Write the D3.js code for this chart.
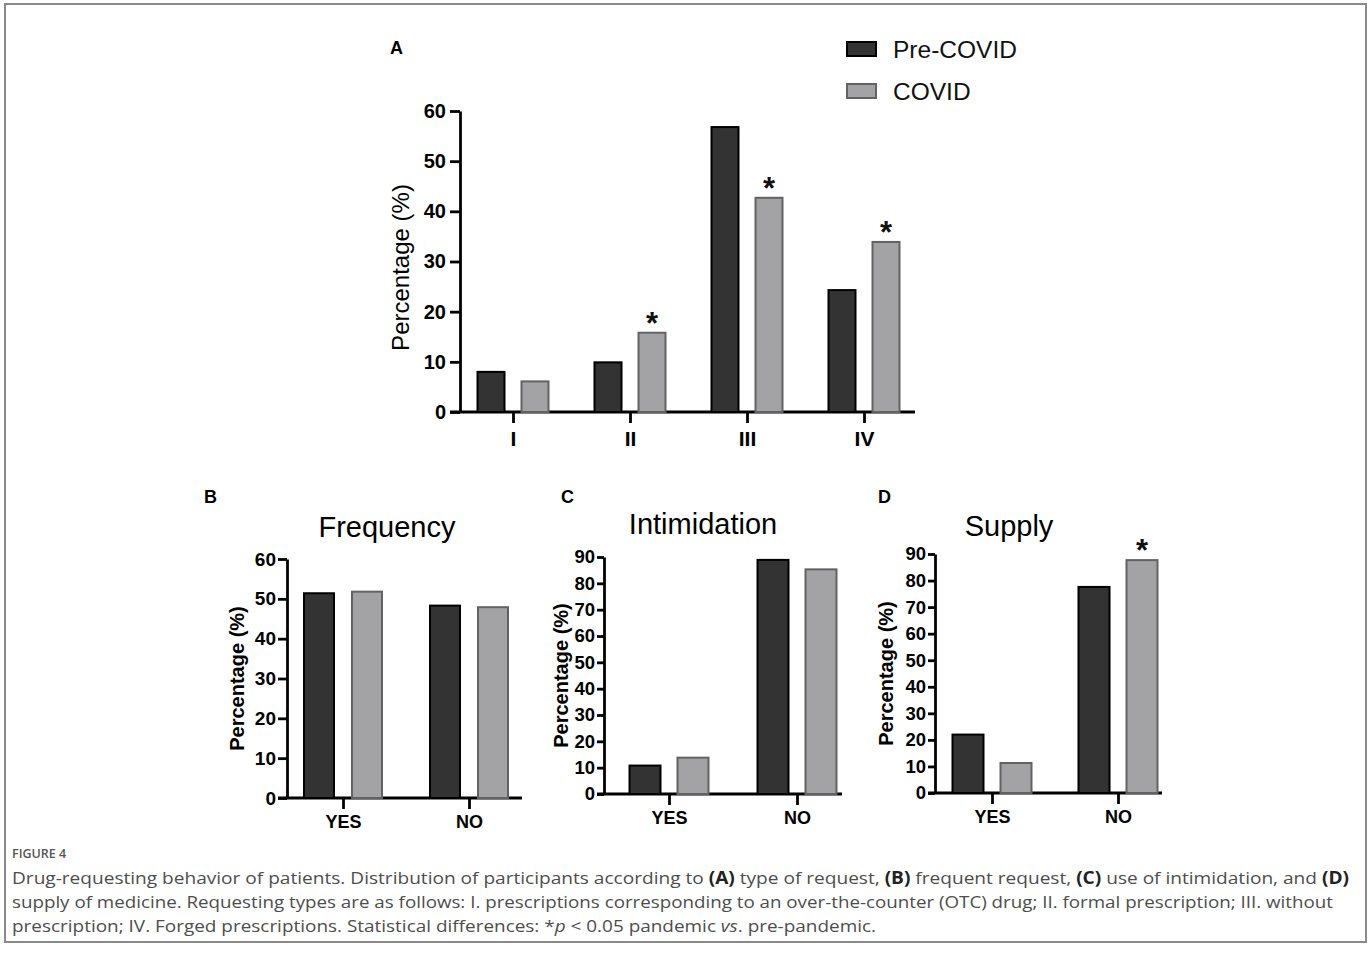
<!DOCTYPE html>
<html>
<head>
<meta charset="utf-8">
<script src="https://cdn.jsdelivr.net/npm/d3@7"></script>
<style>
  body { margin: 0; background: #fff; }
  svg { display: block; }
</style>
</head>
<body>
<svg></svg>
<script>
// data
let seriesNames = ['Pre-COVID', 'COVID']

let catsA = ['I', 'II', 'III', 'IV']
let preA = [8.0, 9.9, 56.8, 24.3]
let covidA = [6.1, 15.8, 42.7, 33.9]
let starA = [false, true, true, true]
let ticksA = [0, 10, 20, 30, 40, 50, 60]

let catsYN = ['YES', 'NO']
let preFreq = [51.4, 48.3]
let covidFreq = [51.8, 47.9]
let preIntim = [10.8, 88.9]
let covidIntim = [13.8, 85.3]
let preSupply = [22.0, 77.6]
let covidSupply = [11.3, 87.7]
let starSupply = [false, true]
let ticks60 = [0, 10, 20, 30, 40, 50, 60]
let ticks90 = [0, 10, 20, 30, 40, 50, 60, 70, 80, 90]

let width = 1371
let height = 961
let font = 'Liberation Sans, Arial, Helvetica, sans-serif'
let preFill = '#333333', preStroke = '#000000'
let covFill = '#a3a3a5', covStroke = '#626262'

let svg = d3.select('svg').attr('width', width).attr('height', height)

// outer frame
svg.append('rect')
   .attr('x', 5).attr('y', 4).attr('width', 1361).attr('height', 938)
   .attr('fill', 'none').attr('stroke', '#8a8a8a').attr('stroke-width', 2)

let drawPanel = (p) => {
    let g = svg.append('g')
    let y = d3.scaleLinear().domain([0, p.yMax]).range([p.bottom, p.top])
    let x = d3.scalePoint().domain(p.cats).range(p.centers)

    // y axis
    let ya = g.append('g')
              .attr('transform', `translate(${p.left},0)`)
              .call(d3.axisLeft(y).tickValues(p.ticks).tickSize(p.tickLen).tickSizeOuter(0).tickPadding(p.tickPad))
    ya.select('.domain').attr('stroke', '#000').attr('stroke-width', 2.8)
    ya.selectAll('.tick line').attr('stroke', '#000').attr('stroke-width', 2.8)
    ya.selectAll('.tick text')
      .attr('fill', '#000').attr('font-family', font).attr('font-weight', 'bold')
      .attr('font-size', p.tickFont)

    // x axis
    let xa = g.append('g')
              .attr('transform', `translate(0,${p.bottom})`)
              .call(d3.axisBottom(x).tickSize(11).tickPadding(p.xPad))
    xa.select('.domain').remove()
    xa.selectAll('.tick line').attr('stroke', '#000').attr('stroke-width', 2.8)
    xa.selectAll('.tick text')
      .attr('fill', '#000').attr('font-family', font).attr('font-weight', 'bold')
      .attr('font-size', p.xFont)
    g.append('line')
     .attr('x1', p.left - p.tickLen).attr('x2', p.right)
     .attr('y1', p.bottom).attr('y2', p.bottom)
     .attr('stroke', '#000').attr('stroke-width', 2.8)

    // bars
    let rows = p.cats.map((c, i) => ({c: c, pre: p.pre[i], cov: p.cov[i], star: p.star ? p.star[i] : false}))
    g.selectAll('.pre').data(rows).enter().append('rect')
     .attr('x', d => x(d.c) - p.off - p.barW / 2)
     .attr('y', d => y(d.pre))
     .attr('width', p.barW)
     .attr('height', d => p.bottom - y(d.pre))
     .attr('fill', preFill).attr('stroke', preStroke).attr('stroke-width', 2)
    g.selectAll('.cov').data(rows).enter().append('rect')
     .attr('x', d => x(d.c) + p.off - p.barW / 2)
     .attr('y', d => y(d.cov))
     .attr('width', p.barW)
     .attr('height', d => p.bottom - y(d.cov))
     .attr('fill', covFill).attr('stroke', covStroke).attr('stroke-width', 2)
    g.selectAll('.star').data(rows.filter(d => d.star)).enter().append('text')
     .attr('x', d => x(d.c) + p.off)
     .attr('y', d => y(d.cov) + 1)
     .attr('text-anchor', 'middle')
     .attr('font-family', font).attr('font-size', 31).attr('font-weight', 'bold').attr('fill', '#111')
     .text('*')

    // y label
    g.append('text')
     .attr('transform', `translate(${p.yLabX},${(p.top + p.bottom) / 2 + p.yLabDy}) rotate(-90)`)
     .attr('text-anchor', 'middle').attr('dominant-baseline', 'central')
     .attr('font-family', font).attr('font-size', p.yLabFont).attr('font-weight', p.yLabWeight)
     .text('Percentage (%)')

    // title and panel letter
    if (p.title) {
        g.append('text')
         .attr('x', (p.centers[0] + p.centers[1]) / 2 + p.titleDx).attr('y', p.titleY)
         .attr('text-anchor', 'middle').attr('dominant-baseline', 'central')
         .attr('font-family', font).attr('font-size', 29)
         .text(p.title)
    }
    g.append('text')
     .attr('x', p.letterX).attr('y', p.letterY)
     .attr('dominant-baseline', 'central')
     .attr('font-family', font).attr('font-size', 18).attr('font-weight', 'bold')
     .text(p.letter)
}

drawPanel({cats: catsA, pre: preA, cov: covidA, star: starA, ticks: ticksA, yMax: 60,
           left: 460, right: 915, top: 111, bottom: 412, centers: [513, 864],
           barW: 27, off: 22, tickLen: 10, tickPad: 4, tickFont: 20, xFont: 21, xPad: 8,
           yLabX: 400, yLabDy: 6, yLabFont: 24, yLabWeight: 'normal',
           letter: 'A', letterX: 390, letterY: 48})

drawPanel({cats: catsYN, pre: preFreq, cov: covidFreq, ticks: ticks60, yMax: 60,
           left: 287, right: 522, top: 559, bottom: 798, centers: [343, 469],
           barW: 30, off: 24, tickLen: 9, tickPad: 2, tickFont: 19, xFont: 18, xPad: 6,
           yLabX: 237, yLabDy: 0, yLabFont: 20, yLabWeight: 'bold',
           title: 'Frequency', titleDx: -19, titleY: 527,
           letter: 'B', letterX: 204, letterY: 497})

drawPanel({cats: catsYN, pre: preIntim, cov: covidIntim, ticks: ticks90, yMax: 90,
           left: 604, right: 842, top: 557, bottom: 794, centers: [669, 797],
           barW: 31, off: 24, tickLen: 7, tickPad: 2, tickFont: 18.5, xFont: 18, xPad: 6,
           yLabX: 561, yLabDy: 0, yLabFont: 20, yLabWeight: 'bold',
           title: 'Intimidation', titleDx: -30, titleY: 524,
           letter: 'C', letterX: 561, letterY: 497})

drawPanel({cats: catsYN, pre: preSupply, cov: covidSupply, star: starSupply, ticks: ticks90, yMax: 90,
           left: 935, right: 1162, top: 554, bottom: 793, centers: [992, 1118],
           barW: 31, off: 24, tickLen: 7, tickPad: 2, tickFont: 18.5, xFont: 18, xPad: 6,
           yLabX: 886, yLabDy: 0, yLabFont: 20, yLabWeight: 'bold',
           title: 'Supply', titleDx: -46, titleY: 526,
           letter: 'D', letterX: 878, letterY: 497})

// legend
let legend = svg.append('g')
legend.selectAll('rect').data(seriesNames).enter().append('rect')
      .attr('x', 847).attr('y', (d, i) => 42 + i * 42)
      .attr('width', 29).attr('height', 14)
      .attr('fill', (d, i) => i ? covFill : preFill)
      .attr('stroke', (d, i) => i ? covStroke : preStroke).attr('stroke-width', 2)
legend.selectAll('text').data(seriesNames).enter().append('text')
      .attr('x', 893).attr('y', (d, i) => 49 + i * 42)
      .attr('dominant-baseline', 'central')
      .attr('font-family', font).attr('font-size', 24.5).attr('fill', '#111')
      .text(d => d)

// caption
let capFont = 'Open Sans, Lato, sans-serif'
let capX = 12
svg.append('text')
   .attr('x', capX).attr('y', 858)
   .attr('font-family', capFont).attr('font-size', 12.5).attr('font-weight', 600)
   .attr('fill', '#555').text('FIGURE 4')

let capLines = [
    [['Drug-requesting behavior of patients. Distribution of participants according to ', ''], ['(A)', 'b'], [' type of request, ', ''], ['(B)', 'b'], [' frequent request, ', ''], ['(C)', 'b'], [' use of intimidation, and ', ''], ['(D)', 'b']],
    [['supply of medicine. Requesting types are as follows: I. prescriptions corresponding to an over-the-counter (OTC) drug; II. formal prescription; III. without', '']],
    [['prescription; IV. Forged prescriptions. Statistical differences: *', ''], ['p', 'i'], [' < 0.05 pandemic ', ''], ['vs', 'i'], ['. pre-pandemic.', '']]
]
let capEnds = [1349, 1333, 876]
capLines.forEach((parts, i) => {
    let t = svg.append('text')
               .attr('x', capX).attr('y', 884 + i * 24)
               .attr('font-family', capFont).attr('font-size', 17)
               .attr('fill', '#4d4d4d')
               .attr('textLength', capEnds[i] - capX).attr('lengthAdjust', 'spacingAndGlyphs')
    parts.forEach(pt => {
        t.append('tspan')
         .attr('font-weight', pt[1] == 'b' ? 700 : 400)
         .attr('font-style', pt[1] == 'i' ? 'italic' : 'normal')
         .attr('fill', pt[1] == 'b' ? '#222' : null)
         .text(pt[0])
    })
})
</script>
</body>
</html>
